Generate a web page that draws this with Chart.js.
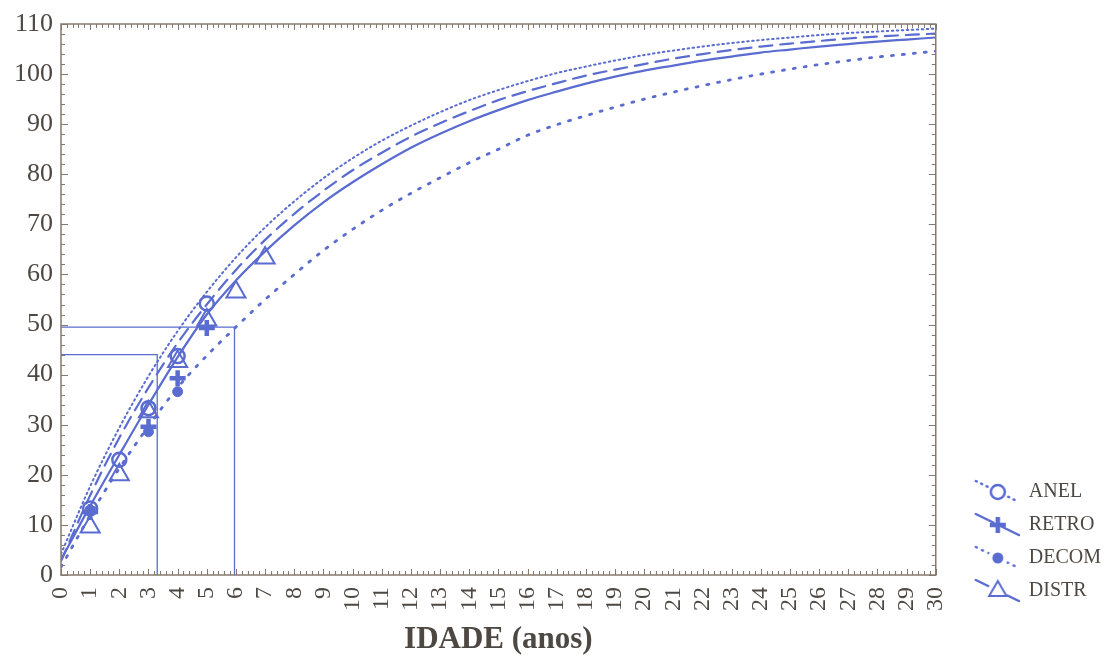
<!DOCTYPE html>
<html>
<head>
<meta charset="utf-8">
<script src="https://cdn.jsdelivr.net/npm/chart.js@4.4.1/dist/chart.umd.min.js"></script>
<style>
  html, body { margin: 0; padding: 0; background: #fff; }
</style>
</head>
<body>
<canvas id="chart" width="1116" height="660"></canvas>
<script>
// ages 0..30 for the fitted curves
const ages = [0,1,2,3,4,5,6,7,8,9,10,11,12,13,14,15,16,17,18,19,20,21,22,23,24,25,26,27,28,29,30];
const anelCurve  = [4.2,17.7,29.4,39.7,48.7,56.5,63.4,69.4,74.6,79.2,83.2,86.7,89.7,92.4,94.8,96.8,98.6,100.2,101.5,102.7,103.8,104.7,105.5,106.2,106.8,107.3,107.8,108.2,108.5,108.8,109.1];
const retroCurve = [2.8,15.9,27.4,37.4,46.3,54.0,60.9,66.9,72.1,76.7,80.8,84.3,87.5,90.2,92.6,94.8,96.6,98.2,99.7,100.9,102.0,103.1,104.0,104.8,105.5,106.1,106.6,107.1,107.5,107.8,108.1];
const decomCurve = [1.6,11.9,21.3,29.7,37.4,43.8,49.5,55.0,60.0,64.8,69.0,72.8,76.2,79.3,82.3,85.0,87.8,89.9,91.7,93.4,95.0,96.4,97.7,98.9,100.0,101.0,101.9,102.7,103.4,104.0,104.6];
const distrCurve = [3.0,13.8,24.0,34.0,43.5,52.0,58.8,64.6,69.8,74.4,78.4,82.0,85.3,88.1,90.6,92.8,94.8,96.5,98.1,99.5,100.7,101.7,102.7,103.5,104.3,104.9,105.5,106.0,106.5,106.9,107.3];

// observed mean lengths
const anelAges = [1,2,3,4,5];
const anelLen  = [13.3,23.0,33.3,43.7,54.2];
const retroAges = [1,3,4,5];
const retroLen  = [12.6,29.6,39.3,49.3];
const decomAges = [1,3,4];
const decomLen  = [13.0,28.6,36.6];
const distrAges = [1,2,3,4,5,6,7];
const distrLen  = [9.6,20.0,32.6,42.6,50.9,56.5,63.3];

// guide lines
const refAges = [3.3, 5.95];
const refLengths = [44, 49.5];

const names = ["ANEL", "RETRO", "DECOM", "DISTR"];

const blue = "#5a6cd0";
const textColor = "#4e4843";
const frameColor = "#85796e";
const serif = "'Liberation Serif', 'Times New Roman', serif";

const pts = (xs, ys) => xs.map((x, i) => ({ x: x, y: ys[i] }));

function curve(data, dash, width) {
    return {
        type: "line",
        data: pts(ages, data),
        borderColor: blue,
        borderWidth: width,
        borderDash: dash,
        borderCapStyle: "round",
        pointRadius: 0,
        cubicInterpolationMode: "monotone",
        fill: false,
        order: 1,
    };
}

function markers(xs, ys, style, radius, width, filled) {
    return {
        type: "line",
        data: pts(xs, ys),
        showLine: false,
        pointStyle: style,
        pointRadius: radius,
        pointBorderWidth: width,
        pointBorderColor: blue,
        pointBackgroundColor: filled ? blue : "rgba(0,0,0,0)",
        order: 0,
    };
}

function guide(i) {
    return {
        type: "line",
        data: [
            { x: 0, y: refLengths[i] },
            { x: refAges[i], y: refLengths[i] },
            { x: refAges[i], y: 0 },
        ],
        borderColor: blue,
        borderWidth: 1.3,
        pointRadius: 0,
        tension: 0,
        order: 2,
    };
}

// legend icon: short line piece with the marker on it
function legendIcon(kind) {
    const c = document.createElement("canvas");
    c.width = 72;
    c.height = 28;
    const g = c.getContext("2d");
    const cx = 50, cy = 14;
    g.strokeStyle = blue;
    g.fillStyle = blue;
    g.lineCap = "round";
    g.lineWidth = 2.5;
    const dashes = { ANEL: [1, 5], RETRO: [], DECOM: [1, 6], DISTR: [] };
    g.setLineDash(dashes[kind]);
    g.beginPath();
    g.moveTo(cx - 22, cy - 11);
    g.lineTo(cx + 21, cy + 10);
    g.stroke();
    g.setLineDash([]);
    g.globalCompositeOperation = "destination-out";
    g.beginPath();
    g.arc(cx, cy, kind === "RETRO" ? 4 : 10, 0, Math.PI * 2);
    g.fill();
    g.globalCompositeOperation = "source-over";
    g.beginPath();
    if (kind === "ANEL") {
        g.lineWidth = 2.5;
        g.arc(cx, cy, 7, 0, Math.PI * 2);
        g.stroke();
    } else if (kind === "RETRO") {
        g.lineWidth = 4.5;
        g.lineCap = "butt";
        g.moveTo(cx - 8, cy); g.lineTo(cx + 8, cy);
        g.moveTo(cx, cy - 8); g.lineTo(cx, cy + 8);
        g.stroke();
    } else if (kind === "DECOM") {
        g.arc(cx, cy, 5.5, 0, Math.PI * 2);
        g.fill();
    } else {
        g.lineWidth = 2;
        g.moveTo(cx, cy - 10);
        g.lineTo(cx + 8.7, cy + 5);
        g.lineTo(cx - 8.7, cy + 5);
        g.closePath();
        g.stroke();
    }
    return c;
}
const icons = names.map(legendIcon);

// closed frame with inward ticks on all four sides
const frameTicks = {
    id: "frameTicks",
    afterDraw(chart) {
        const { ctx, chartArea: a, scales: { x, y } } = chart;
        ctx.save();
        ctx.strokeStyle = frameColor;
        ctx.lineWidth = 1.5;
        ctx.strokeRect(a.left, a.top, a.right - a.left, a.bottom - a.top);
        ctx.lineWidth = 1;
        ctx.beginPath();
        for (let i = 0; i <= 150; i++) {
            const px = Math.round(x.getPixelForValue(i / 5)) + 0.5;
            const len = i % 5 === 0 ? 6 : 4;
            ctx.moveTo(px, a.bottom); ctx.lineTo(px, a.bottom - len);
            ctx.moveTo(px, a.top); ctx.lineTo(px, a.top + len);
        }
        for (let v = 0; v <= 110; v += 2) {
            const py = Math.round(y.getPixelForValue(v)) + 0.5;
            const len = v % 10 === 0 ? 7 : 4;
            ctx.moveTo(a.left, py); ctx.lineTo(a.left + len, py);
            ctx.moveTo(a.right, py); ctx.lineTo(a.right - len, py);
        }
        ctx.stroke();
        ctx.restore();
    },
};

Chart.defaults.font.family = serif;

new Chart(document.getElementById("chart"), {
    type: "line",
    data: {
        datasets: [
            markers(anelAges, anelLen, "circle", 7, 2.5, false),
            markers(retroAges, retroLen, "cross", 8, 4.5, false),
            markers(decomAges, decomLen, "circle", 5, 1, true),
            markers(distrAges, distrLen, "triangle", 11, 2, false),
            curve(anelCurve, [1.5, 3.5], 2),
            curve(retroCurve, [13, 8], 2.2),
            curve(decomCurve, [2, 9], 2.8),
            curve(distrCurve, [], 2.2),
            guide(0),
            guide(1),
        ],
    },
    options: {
        responsive: false,
        animation: false,
        events: [],
        layout: { padding: { top: 24, right: 5, bottom: 0, left: 0 } },
        scales: {
            x: {
                type: "linear",
                min: 0,
                max: 30,
                grid: { display: false, drawTicks: false },
                border: { display: false },
                ticks: {
                    stepSize: 1,
                    autoSkip: false,
                    minRotation: 90,
                    maxRotation: 90,
                    padding: 12,
                    color: textColor,
                    font: { size: 24 },
                },
                title: {
                    display: true,
                    text: "IDADE (anos)",
                    color: textColor,
                    font: { size: 31, weight: "bold" },
                    padding: { top: 0, bottom: 1 },
                },
                afterFit: (s) => { s.height = 85; },
            },
            y: {
                min: 0,
                max: 110,
                grid: { display: false, drawTicks: false },
                border: { display: false },
                ticks: {
                    stepSize: 10,
                    padding: 8,
                    color: textColor,
                    font: { size: 26 },
                },
                afterFit: (s) => { s.width = 61; },
            },
        },
        plugins: {
            tooltip: { enabled: false },
            legend: {
                position: "right",
                align: "start",
                title: {
                    display: true,
                    text: "",
                    font: { size: 10 },
                    padding: { top: 433, bottom: 0 },
                },
                labels: {
                    usePointStyle: true,
                    pointStyleWidth: 70,
                    padding: 13,
                    color: textColor,
                    font: { size: 20 },
                    generateLabels: () =>
                        names.map((name, i) => ({
                            text: name,
                            pointStyle: icons[i],
                            fillStyle: blue,
                            strokeStyle: blue,
                            lineWidth: 0,
                            hidden: false,
                            datasetIndex: i,
                            fontColor: textColor,
                        })),
                },
            },
        },
    },
    plugins: [frameTicks],
});
</script>
</body>
</html>
